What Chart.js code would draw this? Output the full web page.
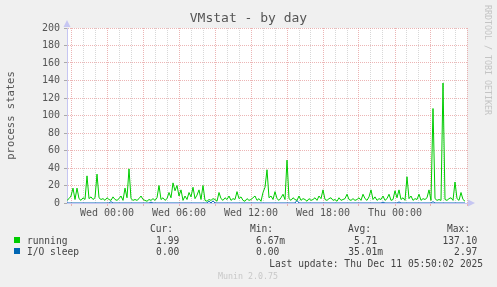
<!DOCTYPE html>
<html><head><meta charset="utf-8">
<script src="https://cdn.jsdelivr.net/npm/chart.js@4/dist/chart.umd.min.js"></script>
<style>
html,body{margin:0;padding:0;background:#f0f0f0;}
#wrap{position:relative;width:497px;height:287px;overflow:hidden;background:#f0f0f0;font-family:'DejaVu Sans Mono',monospace;}
canvas{position:absolute;left:0;top:0;}
.t{position:absolute;white-space:pre;font-size:9.6px;line-height:11px;color:#444;}
.r{text-align:right;}
.sq{position:absolute;width:6px;height:6px;}
#title{position:absolute;left:0;width:497px;top:10px;text-align:center;font-size:13px;line-height:16px;color:#555;}
#rrd{position:absolute;left:483px;top:5px;writing-mode:vertical-rl;font-size:8.3px;color:#c4c4c4;white-space:pre;}
#munin{position:absolute;left:218px;top:271px;font-size:8.3px;color:#c8c8c8;white-space:pre;}
</style></head>
<body><div id="wrap"><canvas id="c" width="497" height="287"></canvas>
<div id="title"></div><div id="rrd"></div><div id="munin"></div><div id="legend"></div></div>
<script>
// ---- data (10-minute samples, starting Tue 20:40) ----
const seriesNames = ["running", "I/O sleep"];
const seriesColors = ["#00CC00", "#0066B3"];
const running = [
3,5,8,17,4,17,5,3,6,4, 31,5,7,4,6,33,6,4,5,3,
6,4,3,7,4,3,5,8,3,17, 6,39,5,3,4,3,5,8,4,3,
2,4,3,5,3,6,20,4,6,3, 5,12,6,23,14,20,8,15,3,8,
4,12,7,18,5,9,15,4,20,3, 2,4,3,5,4,2,12,5,3,6,
4,8,3,5,4,13,5,7,3,2, 5,3,4,6,8,3,5,2,12,18,
38,6,8,4,13,5,3,6,10,4, 49,5,3,6,4,3,8,3,5,4,
2,5,3,4,6,3,8,5,15,4, 3,5,6,3,4,2,6,3,4,5,
10,4,3,5,3,4,6,3,10,5, 3,7,15,4,7,3,5,4,8,3,
5,10,3,4,14,6,15,4,6,3, 30,5,8,3,5,4,10,3,5,4,
6,15,3,108,5,3,4,3,137.1,4, 3,5,6,3,24,5,3,12,4,1.99
];
const ioSleep = [
0,0,0,0,0,0,0,0,0,0, 0,0,0,0,0,0,0,0,0,0,
0,0,1.5,0,0,0,0,0,0,0, 0,0,0,0,0,0,0,0,0,0,
0,0,1,0,0,0,0,0,0,0, 0,0,0,0,0,0,0,0,0,0,
0,0,0,0,0,0,0,0,0,0, 0,2,0,2.5,0,0,0,0,0,0,
0,0,0,0,0,0,0,0,0,0, 0,0,0,0,0,0,0,0,0,0,
0,0,0,0,0,0,0,0,0,0, 0,0,0,0,0,2.97,0,0,0,0,
0,0,0,0,0,0,0,0,0,0, 0,0,0,0,0,0,0,0,0,0,
0,0,0,0,0,0,0,0,0,0, 0,0,0,0,0,0,0,0,1,0,
0,0,0,0,0,0,1.2,0,0,0, 0,0,0,0,0,0,0,0,0,0,
0,0,0,1.5,0,0,0,0,0,0, 0,0,0,0,0,0,0,0,0,0
];
const startMinutes = -200;      // Tue 20:40 relative to Wed 00:00
const sampleMinutes = 10;
const endHour = 30;             // Thu 06:00
const xTickHours = [0, 6, 12, 18, 24];
const xTickLabels = ["Wed 00:00", "Wed 06:00", "Wed 12:00", "Wed 18:00", "Thu 00:00"];
const yTicks = [0, 20, 40, 60, 80, 100, 120, 140, 160, 180, 200];
const statHeaders = ["Cur:", "Min:", "Avg:", "Max:"];
const statCur = ["1.99 ", "0.00 "];
const statMin = ["6.67m", "0.00 "];
const statAvg = ["5.71 ", "35.01m"];
const statMax = ["137.10 ", "2.97 "];
const titleText = "VMstat - by day";
const yTitle = "process states";
const lastUpdate = "Last update: Thu Dec 11 05:50:02 2025";
const sideText = "RRDTOOL / TOBI OETIKER";
const footerText = "Munin 2.0.75";

// ---- build ----
const toPts = arr => arr.map((v, i) => ({x: (startMinutes + i * sampleMinutes) / 60, y: v}));
const MAJOR = 'rgba(228,150,150,0.7)', MINOR = 'rgba(200,200,200,0.7)', AXIS = '#c6c6f2';
const FONT = "'DejaVu Sans Mono', monospace";

const bgPlugin = {
  id: 'bg',
  beforeDraw(chart) {
    const {ctx, chartArea: a} = chart;
    ctx.save(); ctx.fillStyle = '#fff';
    ctx.fillRect(a.left, a.top, a.right - a.left, a.bottom - a.top);
    ctx.restore();
  },
  afterDraw(chart) {
    const {ctx, chartArea: a} = chart;
    ctx.save(); ctx.fillStyle = AXIS;
    ctx.beginPath(); ctx.moveTo(a.left - 3.5, a.top - 1); ctx.lineTo(a.left + 3.5, a.top - 1); ctx.lineTo(a.left, a.top - 8); ctx.closePath(); ctx.fill();
    ctx.beginPath(); ctx.moveTo(a.right + 1, a.bottom - 3.5); ctx.lineTo(a.right + 1, a.bottom + 3.5); ctx.lineTo(a.right + 8, a.bottom); ctx.closePath(); ctx.fill();
    ctx.restore();
  }
};

new Chart(document.getElementById('c'), {
  type: 'line',
  data: {datasets: [
    {label: seriesNames[0], data: toPts(running), borderColor: seriesColors[0], borderWidth: 1, pointRadius: 0, tension: 0},
    {label: seriesNames[1], data: toPts(ioSleep), borderColor: seriesColors[1], borderWidth: 1, pointRadius: 0, tension: 0}
  ]},
  options: {
    responsive: false, animation: false, devicePixelRatio: 1,
    layout: {padding: {left: 0, top: 28, right: 30, bottom: 0}},
    plugins: {legend: {display: false}, tooltip: {enabled: false}, title: {display: false}},
    scales: {
      x: {
        type: 'linear', min: startMinutes / 60, max: endHour,
        afterFit(s) { s.height = 84; },
        afterBuildTicks(s) {
          const t = [];
          for (let h = Math.ceil(startMinutes / 60); h <= endHour; h++) t.push({value: h});
          s.ticks = t;
        },
        ticks: {
          autoSkip: false, maxRotation: 0, padding: 1, color: '#555',
          font: {family: FONT, size: 10},
          callback(v) { const k = xTickHours.indexOf(v); return k >= 0 ? xTickLabels[k] : ''; }
        },
        grid: {
          color: c => (c.tick && c.tick.value % 3 === 0) ? MAJOR : MINOR,
          tickColor: c => (c.tick && c.tick.value % 3 === 0) ? MAJOR : 'rgba(0,0,0,0)',
          tickLength: 3, lineWidth: 1
        },
        border: {color: AXIS, dash: [1, 1]}
      },
      y: {
        min: 0, max: 200,
        afterFit(s) { s.width = 67; },
        afterBuildTicks(s) {
          const t = [];
          for (let v = 0; v <= 200; v += 10) t.push({value: v});
          s.ticks = t;
        },
        ticks: {
          padding: 4, color: '#555', font: {family: FONT, size: 10},
          callback(v) { return yTicks.includes(v) ? String(v) : ''; }
        },
        grid: {
          color: c => (c.tick && c.tick.value % 20 === 0) ? MAJOR : MINOR,
          tickColor: c => (c.tick && c.tick.value % 20 === 0) ? '#aaa' : 'rgba(0,0,0,0)',
          tickLength: 3, lineWidth: 1
        },
        border: {color: AXIS, dash: [1, 1]},
        title: {display: true, text: yTitle, color: '#555', font: {family: FONT, size: 10.5}, padding: {top: 5, bottom: 0}}
      }
    }
  },
  plugins: [bgPlugin]
});

// ---- text overlays ----
document.getElementById('title').textContent = titleText;
document.getElementById('rrd').textContent = sideText;
document.getElementById('munin').textContent = footerText;
const lg = document.getElementById('legend');
function add(text, x, yc, right, color) {
  const d = document.createElement('div');
  d.className = 't' + (right ? ' r' : '');
  d.textContent = text;
  d.style.top = (yc - 5.5) + 'px';
  if (right) d.style.right = (497 - x) + 'px'; else d.style.left = x + 'px';
  if (color) d.style.color = color;
  lg.appendChild(d);
}
const headerX = [150, 250, 348, 447];
statHeaders.forEach((h, i) => add(h, headerX[i], 228, false));
const rowY = [240, 251];
const colRight = [185, 285, 383, 483];
const stats = [statCur, statMin, statAvg, statMax];
seriesNames.forEach((n, r) => {
  const sq = document.createElement('div');
  sq.className = 'sq'; sq.style.left = '14px'; sq.style.top = (rowY[r] - 3) + 'px';
  sq.style.background = seriesColors[r];
  lg.appendChild(sq);
  add(n, 27, rowY[r], false);
  stats.forEach((col, c) => add(col[r], colRight[c], rowY[r], true));
});
add(lastUpdate, 483, 263, true);
</script></body></html>
